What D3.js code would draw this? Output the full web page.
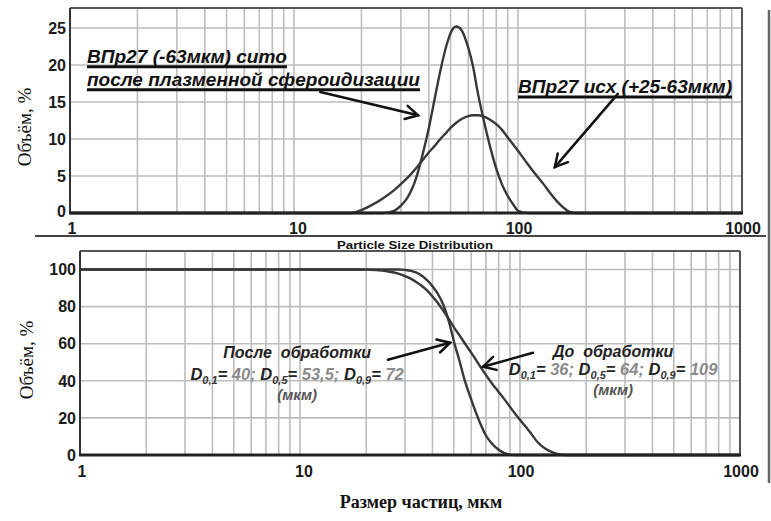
<!DOCTYPE html>
<html><head><meta charset="utf-8">
<script src="https://cdn.jsdelivr.net/npm/d3@7"></script>
<style>body{margin:0;background:#fff} svg{display:block}</style>
</head><body><svg id="c" width="771" height="521"></svg>
<script>
// ---- data ----
const sizes      = [1, 18, 20, 22, 25, 28, 30, 32, 35, 38, 40, 42, 45, 48, 50, 53, 56, 60, 63, 66, 70, 75, 80, 85, 90, 95, 100, 110, 120, 130, 140, 150, 160, 170, 180, 1000];
const freqAfter  = [0, 0, 0, 0, 0, 0.3, 1.0, 2.0, 4.6, 8.6, 11.5, 14.7, 19.2, 22.7, 24.3, 25.2, 24.7, 22.3, 19.8, 16.4, 12.8, 9.0, 6.0, 3.8, 2.3, 1.2, 0.3, 0, 0, 0, 0, 0, 0, 0, 0, 0];
const freqBefore = [0, 0, 0.4, 1.0, 2.0, 3.1, 3.9, 4.7, 6.0, 7.35, 8.2, 8.9, 10.0, 10.9, 11.5, 12.2, 12.7, 13.1, 13.2, 13.2, 13.05, 12.6, 12.0, 11.2, 10.2, 9.3, 8.4, 6.7, 5.2, 3.9, 2.6, 1.5, 0.7, 0.15, 0, 0];
const cumAfter   = [100, 100, 100, 100, 100, 100, 99.8, 99.3, 97.5, 94, 91, 87.5, 80.5, 70, 61.5, 51, 40.5, 30, 23, 17, 10.5, 5.8, 2.8, 1, 0.2, 0, 0, 0, 0, 0, 0, 0, 0, 0, 0, 0];
const cumBefore  = [100, 100, 99.95, 99.7, 99, 97.8, 96.5, 95, 92, 88.5, 85.5, 82.5, 77.5, 72.4, 69, 64.6, 60.4, 55.2, 51.4, 47.7, 43.2, 38.2, 34, 30, 26, 22.3, 19, 13, 7, 3.5, 1.5, 0.4, 0, 0, 0, 0];
const xTickValues = [1, 10, 100, 1000];
const topYTicks = [0, 5, 10, 15, 20, 25];
const botYTicks = [0, 20, 40, 60, 80, 100];
const yTitle = "Объём, %";
const xTitle = "Размер частиц, мкм";
const topLabel1 = "ВПр27 (-63мкм) сито";
const topLabel2 = "после плазменной сфероидизации";
const topLabel3 = "ВПр27 исх (+25-63мкм)";
const subTitle = "Particle Size Distribution";
const afterTitle = "После  обработки";
const beforeTitle = "До  обработки";
const afterD = [["0,1", "40"], ["0,5", "53,5"], ["0,9", "72"]];
const beforeD = [["0,1", "36"], ["0,5", "64"], ["0,9", "109"]];
const unitText = "(мкм)";

// ---- layout ----
const svg = d3.select("#c");
const SANS = "'Liberation Sans', Arial, sans-serif";
const SERIF = "'Liberation Serif', 'Times New Roman', serif";
const GRID = "#bdbdbd", CURVE = "#383838";

const topP = {l: 70, r: 742, t: 8, b: 213, ymax: 27.7};
const botP = {l: 80, r: 740, t: 251, b: 455, ymax: 110};

function panel(p, yTicks, labelY, zeroDy) {
  const x = d3.scaleLog().domain([1, 1000]).range([p.l, p.r]);
  const y = d3.scaleLinear().domain([0, p.ymax]).range([p.b, p.t]);
  const g = svg.append("g");
  const minor = [];
  for (let k = 0; k < 3; k++) for (let m = 2; m <= 10; m++) minor.push(m * Math.pow(10, k));
  g.selectAll(".vg").data(minor).join("line")
    .attr("x1", d => x(d)).attr("x2", d => x(d)).attr("y1", p.t).attr("y2", p.b)
    .attr("stroke", GRID).attr("stroke-width", 1.6);
  g.selectAll(".hg").data(yTicks.filter(d => d > 0)).join("line")
    .attr("x1", p.l).attr("x2", p.r).attr("y1", d => y(d)).attr("y2", d => y(d))
    .attr("stroke", GRID).attr("stroke-width", 1.6);
  g.append("line").attr("x1", p.l).attr("x2", p.r).attr("y1", p.t).attr("y2", p.t).attr("stroke", "#555").attr("stroke-width", 2);
  g.append("line").attr("x1", p.r).attr("x2", p.r).attr("y1", p.t).attr("y2", p.b).attr("stroke", "#555").attr("stroke-width", 2);
  g.append("line").attr("x1", p.l).attr("x2", p.l).attr("y1", p.t).attr("y2", p.b).attr("stroke", "#333").attr("stroke-width", 2);
  g.selectAll(".yl").data(yTicks).join("text")
    .attr("x", p.l - 4).attr("y", d => y(d) + (d === 0 ? zeroDy : 0)).attr("dy", "0.36em")
    .attr("text-anchor", "end").attr("font-family", SANS).attr("font-weight", "bold")
    .attr("font-size", 16).attr("fill", "#1a1a1a").text(d => d);
  g.selectAll(".xl").data(xTickValues).join("text")
    .attr("x", d => x(d) + (d === 1 ? 2 : (d === 10 ? 4 : 1))).attr("y", labelY)
    .attr("text-anchor", "middle").attr("font-family", SANS).attr("font-weight", "bold")
    .attr("font-size", 16).attr("fill", "#1a1a1a").text(d => d);
  return {x, y, g};
}

const T = panel(topP, topYTicks, 234, -2);
const B = panel(botP, botYTicks, 477, 0);

function curve(P, vals) {
  const line = d3.line().x((d, i) => P.x(sizes[i])).y(d => P.y(d)).curve(d3.curveMonotoneX);
  P.g.append("path").attr("d", line(vals)).attr("fill", "none")
    .attr("stroke", CURVE).attr("stroke-width", 2.4).attr("stroke-linejoin", "round");
}
curve(T, freqBefore); curve(T, freqAfter);
curve(B, cumBefore); curve(B, cumAfter);

[[T, topP], [B, botP]].forEach(([P, p]) => {
  P.g.append("line").attr("x1", p.l - 1).attr("x2", p.r + 1).attr("y1", p.b).attr("y2", p.b)
    .attr("stroke", "#222").attr("stroke-width", 3);
});

svg.append("line").attr("x1", 35).attr("x2", 766).attr("y1", 236).attr("y2", 236).attr("stroke", "#444").attr("stroke-width", 2);
svg.append("line").attr("x1", 769).attr("x2", 769).attr("y1", 10).attr("y2", 483).attr("stroke", "#666").attr("stroke-width", 2.5);

svg.append("text").attr("x", 415).attr("y", 249).attr("text-anchor", "middle")
  .attr("font-family", SANS).attr("font-weight", "bold").attr("font-size", 10)
  .attr("textLength", 156).attr("lengthAdjust", "spacingAndGlyphs").attr("fill", "#111").text(subTitle);

function yTitleAt(cx, cy) {
  svg.append("text").attr("transform", `translate(${cx},${cy}) rotate(-90)`)
    .attr("text-anchor", "middle").attr("dy", "0.35em").attr("font-family", SERIF)
    .attr("font-size", 19).attr("fill", "#111").text(yTitle);
}
yTitleAt(24, 127); yTitleAt(26, 360);
svg.append("text").attr("x", 421).attr("y", 508).attr("text-anchor", "middle")
  .attr("font-family", SERIF).attr("font-weight", "bold").attr("font-size", 18).attr("fill", "#111").text(xTitle);

function arrow(P, from, to) {
  const x1 = P.x(from[0]), y1 = P.y(from[1]), x2 = P.x(to[0]), y2 = P.y(to[1]);
  const a = Math.atan2(y2 - y1, x2 - x1), L = 14, h = 0.5;
  const g = svg.append("g").attr("stroke", "#111").attr("stroke-width", 2.5).attr("fill", "none").attr("stroke-linecap", "round");
  g.append("line").attr("x1", x1).attr("y1", y1).attr("x2", x2).attr("y2", y2);
  g.append("path").attr("d", `M${x2 - L * Math.cos(a - h)},${y2 - L * Math.sin(a - h)}L${x2},${y2}L${x2 - L * Math.cos(a + h)},${y2 - L * Math.sin(a + h)}`);
}

function ulabel(P, xv, yv, txt, w) {
  svg.append("text").attr("x", P.x(xv)).attr("y", P.y(yv))
    .attr("font-family", SANS).attr("font-weight", "bold").attr("font-style", "italic")
    .attr("font-size", 19).attr("textLength", w).attr("lengthAdjust", "spacingAndGlyphs")
    .attr("fill", "#111").text(txt);
  svg.append("line").attr("x1", P.x(xv)).attr("x2", P.x(xv) + w)
    .attr("y1", P.y(yv) + 4).attr("y2", P.y(yv) + 4).attr("stroke", "#111").attr("stroke-width", 3);
}
ulabel(T, 1.19, 20.3, topLabel1, 200);
ulabel(T, 1.19, 17.2, topLabel2, 333);
ulabel(T, 100, 16.2, topLabel3, 214);
arrow(T, [13.1, 16.35], [35.8, 13.2]);
arrow(T, [279, 16.1], [146, 6.2]);

function dblock(P, cx, vTitle, vD, vU, title, dvals) {
  const X = P.x(cx);
  svg.append("text").attr("x", X).attr("y", P.y(vTitle)).attr("text-anchor", "middle")
    .attr("font-family", SANS).attr("font-weight", "bold").attr("font-style", "italic")
    .attr("font-size", 16).attr("fill", "#222").attr("xml:space", "preserve").text(title);
  const t = svg.append("text").attr("x", X).attr("y", P.y(vD)).attr("text-anchor", "middle")
    .attr("font-family", SANS).attr("font-weight", "bold").attr("font-style", "italic").attr("font-size", 16.5);
  dvals.forEach((d, i) => {
    t.append("tspan").attr("fill", "#222").text("D");
    t.append("tspan").attr("fill", "#333").attr("font-size", 11).attr("dy", 4).text(d[0]);
    t.append("tspan").attr("fill", "#222").attr("dy", -4).text("=");
    t.append("tspan").attr("fill", "#8a8a8a").text(" " + d[1] + (i < dvals.length - 1 ? "; " : ""));
  });
  svg.append("text").attr("x", X).attr("y", P.y(vU)).attr("text-anchor", "middle")
    .attr("font-family", SANS).attr("font-weight", "bold").attr("font-style", "italic")
    .attr("font-size", 15).attr("fill", "#555").text(unitText);
}
dblock(B, 9.7, 52.4, 40.5, 29.7, afterTitle, afterD);
dblock(B, 265, 53, 43.2, 32.4, beforeTitle, beforeD);
arrow(B, [25.1, 51.4], [48.1, 60.5]);
arrow(B, [114.6, 55.1], [67.9, 47.6]);
</script></body></html>
